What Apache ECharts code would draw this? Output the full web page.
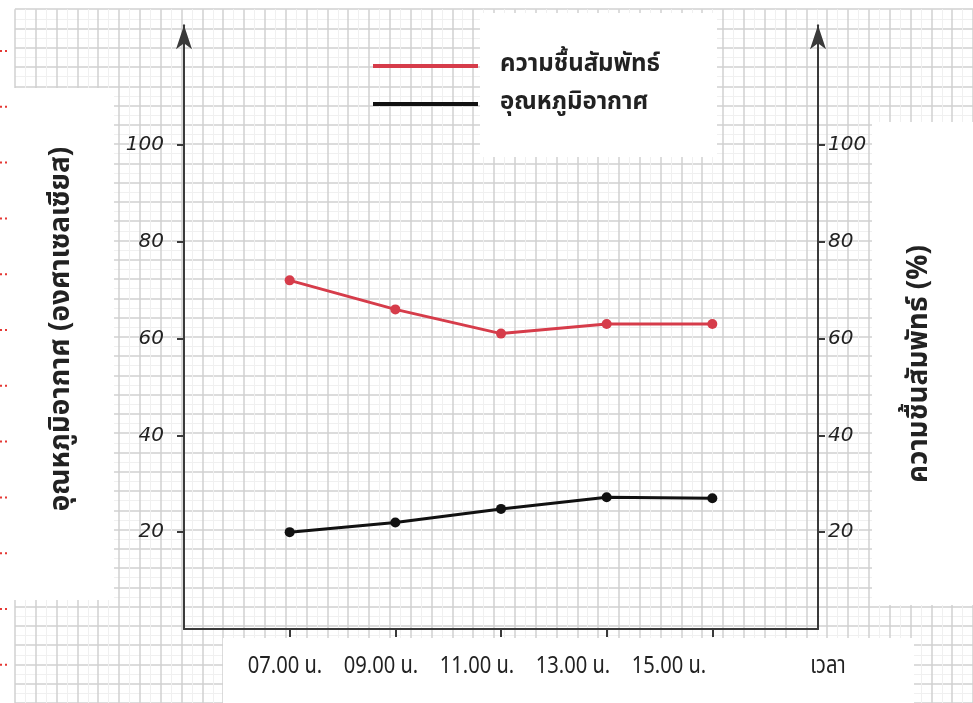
<!DOCTYPE html>
<html>
<head>
<meta charset="utf-8">
<style>
  html, body { margin: 0; padding: 0; background: #fff; }
  #chart { width: 973px; height: 703px; }
</style>
<script src="https://cdn.jsdelivr.net/npm/echarts@6/dist/echarts.min.js"></script>
</head>
<body>
<div id="chart"></div>
<script>
const times = ['07.00 น.', '09.00 น.', '11.00 น.', '13.00 น.', '15.00 น.'];
const humidity = [72, 66, 61, 63, 63];
const temperature = [20, 22, 24.8, 27.2, 27];
const yTicks = [20, 40, 60, 80, 100];

const humidityName = 'ความชื้นสัมพัทธ์';
const tempName = 'อุณหภูมิอากาศ';
const leftTitle = 'อุณหภูมิอากาศ (องศาเซลเซียส)';
const rightTitle = 'ความชื้นสัมพัทธ์ (%)';
const xTitle = 'เวลา';

const FONT = "'Noto Sans Thai', 'Noto Sans', sans-serif";
const RED = '#d63c4a';
const AXIS = '#3a3a3a';

// plot frame
const W = 973, H = 703;
const plotLeft = 184, plotRight = 818, plotBottom = 629;
const yMax = 124.7;               // axis runs past 100, up to the arrow tip
const unitPx = 96.85 / 20;        // pixels per unit on both y axes
const plotTop = plotBottom - yMax * unitPx;

// one empty slot each side so the points sit inside the frame
const cats = [''].concat(times, ['']);
const pad = arr => ['-'].concat(arr, ['-']);

// graph paper cells, lined up with the axes (5 cells per category / per 20 units)
const cellW = (plotRight - plotLeft) / 30;
const cellH = 20 * unitPx / 5;

const chart = echarts.init(document.getElementById('chart'));

const box = (x, y, w, h) => ({
    type: 'rect', z: 1, silent: true,
    shape: { x, y, width: w, height: h },
    style: { fill: '#fff' }
});

const dots = [];
for (let i = 0; i < 12; i++) {
    const y = 51 + i * 55.8;
    dots.push({
        type: 'line', z: 2, silent: true,
        shape: { x1: 0, y1: y, x2: 9, y2: y },
        style: { stroke: '#e53935', lineWidth: 2, lineDash: [2, 3] }
    });
}

// bottom label strip (slightly condensed text)
const labelText = (t, x) => ({
    type: 'text', z: 5, silent: true,
    x: x, y: 668, scaleX: 0.84,
    style: { text: t, fontSize: 24, fontFamily: FONT, fill: '#222', align: 'center', verticalAlign: 'middle' }
});
const xLabels = times.map((t, i) => labelText(t, 285 + i * 96));
xLabels.push(labelText(xTitle, 828));

const paperAxis = (min, max) => ({
    type: 'value',
    gridIndex: 1,
    min: min,
    max: max,
    interval: 1,
    axisLine: { show: false },
    axisTick: { show: false },
    axisLabel: { show: false },
    minorTick: { show: false, splitNumber: 2 },
    splitLine: { show: true, lineStyle: { color: '#d0d0d0', width: 1.5 } },
    minorSplitLine: { show: true, lineStyle: { color: '#f0f0f0', width: 1 } }
});

const yAxisBase = {
    type: 'value',
    gridIndex: 0,
    min: 0,
    max: yMax,
    interval: 20,
    axisLine: {
        show: true,
        symbol: ['none', 'arrow'],
        symbolSize: [12, 24],
        lineStyle: { color: AXIS, width: 2 }
    },
    axisTick: { show: true, length: 7, customValues: yTicks, lineStyle: { color: AXIS, width: 2 } },
    splitLine: { show: false },
    axisLabel: {
        customValues: yTicks,
        fontSize: 20,
        fontStyle: 'italic',
        fontFamily: 'DejaVu Sans',
        color: '#222'
    }
};

const option = {
    backgroundColor: '#fff',
    animation: false,
    grid: [
        { left: plotLeft, right: W - plotRight, top: plotTop, bottom: H - plotBottom },
        // paper background
        {
            left: plotLeft - 8 * cellW,
            right: W - (plotLeft + 38 * cellW),
            top: plotBottom - 32 * cellH,
            bottom: H - plotBottom - 4 * cellH
        }
    ],
    legend: {
        orient: 'vertical',
        left: 373,
        top: 54,
        padding: 0,
        icon: 'rect',
        itemWidth: 105,
        itemHeight: 4,
        itemGap: 14,
        z: 5,
        textStyle: {
            fontSize: 24,
            fontWeight: 'bold',
            color: '#222',
            fontFamily: FONT,
            lineHeight: 24,
            padding: [0, 0, 0, 17]
        },
        data: [humidityName, tempName]
    },
    xAxis: [
        {
            type: 'category',
            gridIndex: 0,
            data: cats,
            boundaryGap: false,
            axisLine: { show: true, onZero: false, lineStyle: { color: AXIS, width: 2 } },
            axisTick: {
                show: true,
                length: 8,
                interval: (i, v) => v !== '',
                lineStyle: { color: AXIS, width: 2 }
            },
            axisLabel: { show: false },
            splitLine: { show: false }
        },
        paperAxis(-8, 38)
    ],
    yAxis: [
        Object.assign({}, yAxisBase, { position: 'left', axisLabel: Object.assign({}, yAxisBase.axisLabel, { margin: 20 }) }),
        Object.assign({}, yAxisBase, { position: 'right', axisLabel: Object.assign({}, yAxisBase.axisLabel, { margin: 10 }) }),
        paperAxis(-4, 32)
    ],
    graphic: [
        box(12, 88, 102, 512),
        box(480, 13, 237, 144),
        box(872, 122, 101, 483),
        box(223, 638, 691, 65),
        {
            type: 'text', z: 5, silent: true,
            x: 63, y: 329, rotation: Math.PI / 2,
            style: {
                text: leftTitle, fontSize: 28, fontWeight: 'bold', fontFamily: FONT,
                fill: '#222', align: 'center', verticalAlign: 'middle'
            }
        },
        {
            type: 'text', z: 5, silent: true,
            x: 921, y: 364, rotation: Math.PI / 2,
            style: {
                text: rightTitle, fontSize: 28, fontWeight: 'bold', fontFamily: FONT,
                fill: '#222', align: 'center', verticalAlign: 'middle'
            }
        }
    ].concat(xLabels, dots),
    series: [
        {
            name: humidityName,
            type: 'line',
            xAxisIndex: 0,
            yAxisIndex: 1,
            data: pad(humidity),
            symbol: 'circle',
            symbolSize: 10,
            z: 3,
            lineStyle: { color: RED, width: 3 },
            itemStyle: { color: RED }
        },
        {
            name: tempName,
            type: 'line',
            xAxisIndex: 0,
            yAxisIndex: 0,
            data: pad(temperature),
            symbol: 'circle',
            symbolSize: 10,
            z: 3,
            lineStyle: { color: '#111', width: 3 },
            itemStyle: { color: '#111' }
        }
    ]
};

chart.setOption(option);
window.addEventListener('resize', () => chart.resize());
</script>
</body>
</html>
